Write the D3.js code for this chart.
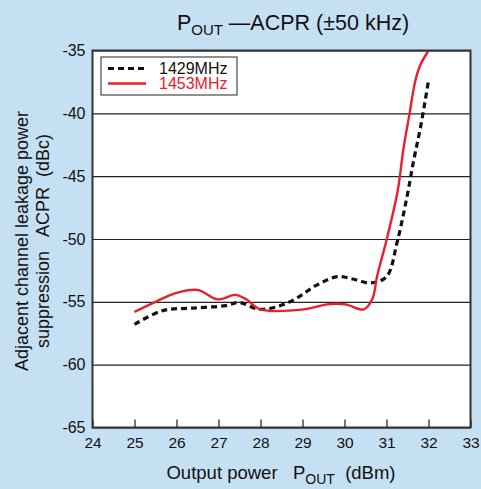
<!DOCTYPE html>
<html>
<head>
<meta charset="utf-8">
<script src="https://cdn.jsdelivr.net/npm/d3@7"></script>
<style>
  body { margin: 0; background: #c5e0f3; }
  svg { display: block; font-family: 'Liberation Sans', Arial, sans-serif; }
</style>
</head>
<body>
<svg width="481" height="489"></svg>
<script>
// data
const power1429 = [25, 25.67, 26.38, 27.17, 27.49, 28, 28.7, 29.35, 29.83, 30.22, 30.62, 31.0, 31.25, 31.49, 31.65, 31.81, 32.0];
const acpr1429 = [-56.8, -55.7, -55.5, -55.3, -55.05, -55.6, -55.0, -53.65, -53.0, -53.2, -53.5, -53.0, -50.3, -46.6, -43.7, -41.1, -37.4];
const power1453 = [25, 25.5, 25.98, 26.5, 26.98, 27.4, 27.66, 28, 29.03, 29.59, 30.02, 30.46, 30.66, 30.78, 31.0, 31.27, 31.4, 31.55, 31.68, 31.8, 32.0];
const acpr1453 = [-55.8, -55.0, -54.3, -54.05, -54.8, -54.45, -54.8, -55.6, -55.6, -55.2, -55.2, -55.6, -54.8, -52.9, -50.1, -46.1, -42.9, -40.0, -37.5, -36.2, -35.0];
const xTicks = [24, 25, 26, 27, 28, 29, 30, 31, 32, 33];
const yTicks = [-35, -40, -45, -50, -55, -60, -65];
const seriesNames = ['1429MHz', '1453MHz'];

const svg = d3.select('svg');
const margin = { top: 50.5, left: 92.5, right: 10.5, bottom: 61.5 };
const width = +svg.attr('width');
const height = +svg.attr('height');
const innerWidth = width - margin.left - margin.right;
const innerHeight = height - margin.top - margin.bottom;

const xScale = d3.scaleLinear().domain([24, 33]).range([0, innerWidth]);
const yScale = d3.scaleLinear().domain([-65, -35]).range([innerHeight, 0]);

const g = svg.append('g')
  .attr('transform', `translate(${margin.left},${margin.top})`);

g.append('rect')
  .attr('width', innerWidth)
  .attr('height', innerHeight)
  .attr('fill', '#fff');

// y grid + labels (plain hyphen as in the original)
const yAxisG = g.append('g')
  .call(d3.axisLeft(yScale).tickValues(yTicks).tickSize(-innerWidth).tickPadding(7).tickFormat(d => String(d)));
yAxisG.select('.domain').remove();
yAxisG.selectAll('line').attr('stroke', '#222').attr('stroke-width', 1.2);
yAxisG.selectAll('text').attr('font-size', 16).attr('fill', '#111').attr('font-family', 'Liberation Sans, Arial, sans-serif');

// x ticks inside + labels
const xAxisG = g.append('g')
  .attr('transform', `translate(0,${innerHeight})`)
  .call(d3.axisBottom(xScale).tickValues(xTicks).tickSizeInner(-8).tickSizeOuter(0).tickPadding(9));
xAxisG.select('.domain').remove();
xAxisG.selectAll('line').attr('stroke', '#444').attr('stroke-width', 1.5);
xAxisG.selectAll('text')
  .attr('font-size', 15.5)
  .attr('fill', '#111')
  .attr('font-family', 'Liberation Sans, Arial, sans-serif')
  .attr('dy', null)
  .attr('y', 20);

const line = d3.line()
  .x(d => xScale(d[0]))
  .y(d => yScale(d[1]))
  .curve(d3.curveCatmullRom.alpha(0.5));

g.append('path')
  .datum(d3.zip(power1429, acpr1429))
  .attr('d', line)
  .attr('fill', 'none')
  .attr('stroke', '#111')
  .attr('stroke-width', 3.2)
  .attr('stroke-dasharray', '6,4');

g.append('path')
  .datum(d3.zip(power1453, acpr1453))
  .attr('d', line)
  .attr('fill', 'none')
  .attr('stroke', '#e8202a')
  .attr('stroke-width', 2.4);

// frame
g.append('rect')
  .attr('width', innerWidth)
  .attr('height', innerHeight)
  .attr('fill', 'none')
  .attr('stroke', '#333')
  .attr('stroke-width', 2);

// legend
const legend = svg.append('g').attr('transform', 'translate(101,57)');
legend.append('rect')
  .attr('width', 136)
  .attr('height', 38)
  .attr('fill', '#fff')
  .attr('stroke', '#222')
  .attr('stroke-width', 1);
const legendStyles = [
  { color: '#111', dash: '6,4', w: 3.2, text: '#111' },
  { color: '#e8202a', dash: null, w: 2.4, text: '#e8202a' }
];
seriesNames.forEach((name, i) => {
  const y = 11.5 + i * 15;
  legend.append('line')
    .attr('x1', 7).attr('x2', 45)
    .attr('y1', y).attr('y2', y)
    .attr('stroke', legendStyles[i].color)
    .attr('stroke-width', legendStyles[i].w)
    .attr('stroke-dasharray', legendStyles[i].dash);
  legend.append('text')
    .attr('x', 58)
    .attr('y', y + 5.5)
    .attr('font-size', 16)
    .attr('fill', legendStyles[i].text)
    .text(name);
});

// title
const title = svg.append('text')
  .attr('x', 293)
  .attr('y', 30)
  .attr('text-anchor', 'middle')
  .attr('font-size', 21.5)
  .attr('fill', '#111')
  .attr('xml:space', 'preserve');
title.append('tspan').text('P');
title.append('tspan').attr('font-size', 15).attr('dy', 5).text('OUT');
title.append('tspan').attr('dy', -5).text(' \u2014ACPR (\u00b150 kHz)');

// x axis label
const xLabel = svg.append('text')
  .attr('x', 281)
  .attr('y', 479)
  .attr('text-anchor', 'middle')
  .attr('font-size', 18.5)
  .attr('fill', '#111')
  .attr('xml:space', 'preserve');
xLabel.append('tspan').text('Output power   P');
xLabel.append('tspan').attr('font-size', 14).attr('dy', 5).text('OUT');
xLabel.append('tspan').attr('dy', -5).text('  (dBm)');

// y axis label (two lines)
const yLabel = svg.append('text')
  .attr('transform', 'translate(0,241) rotate(-90)')
  .attr('text-anchor', 'middle')
  .attr('font-size', 18)
  .attr('fill', '#111')
  .attr('xml:space', 'preserve');
yLabel.append('tspan').attr('x', 0).attr('y', 28).text('Adjacent channel leakage power');
yLabel.append('tspan').attr('x', 0).attr('y', 49).text('suppression   ACPR  (dBc)');
</script>
</body>
</html>
